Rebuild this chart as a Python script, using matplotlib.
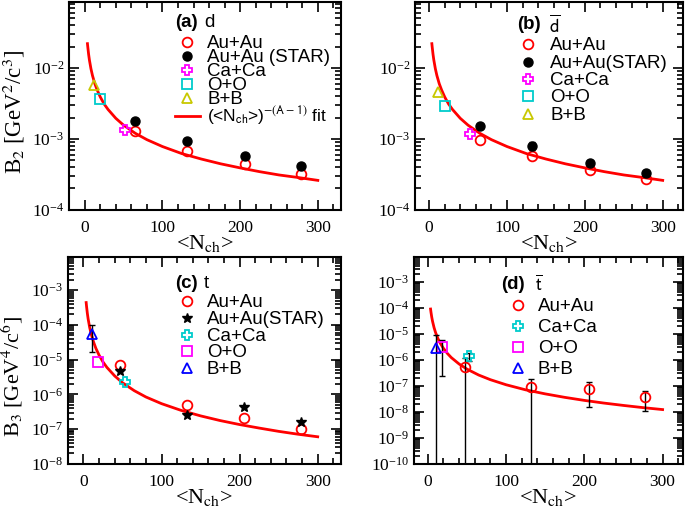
import numpy as np
import matplotlib
matplotlib.use('Agg')
import matplotlib.pyplot as plt
from matplotlib.lines import Line2D
from matplotlib.font_manager import FontProperties
from matplotlib.ticker import MultipleLocator, LogLocator, NullFormatter

plt.rcParams['font.family'] = 'Liberation Serif'
plt.rcParams['mathtext.fontset'] = 'stix'

# ---- data ----
# (a) deuteron B2
a_auau_x = [65, 132, 206, 278]
a_auau_y = [1.31e-3, 6.8e-4, 4.4e-4, 3.2e-4]
a_star_x = [65, 132, 206, 278]
a_star_y = [1.78e-3, 9.2e-4, 5.8e-4, 4.1e-4]
a_caca = (52, 1.33e-3)
a_oo = (20, 3.66e-3)
a_bb = (12, 5.8e-3)

# (b) anti-deuteron B2
b_auau_x = [65, 132, 206, 278]
b_auau_y = [9.8e-4, 5.7e-4, 3.7e-4, 2.75e-4]
b_star_x = [65, 132, 206, 278]
b_star_y = [1.54e-3, 8.0e-4, 4.55e-4, 3.3e-4]
b_star_err = [0.0, 1.0e-4, 0.0, 0.0]
b_caca = (53, 1.17e-3)
b_oo = (20, 2.95e-3)
b_bb = (12, 4.65e-3)

# (c) triton B3
c_auau_x = [47, 132, 206, 278]
c_auau_y = [7.0e-6, 5.0e-7, 2.1e-7, 1.0e-7]
c_star_x = [47, 132, 206, 278]
c_star_y = [4.6e-6, 2.5e-7, 4.4e-7, 1.65e-7]
c_caca = (53, 2.2e-6)
c_oo = (19, 8.8e-6)
c_bb = (11, 5.4e-5)
c_bb_lo, c_bb_hi = 1.65e-5, 9.8e-5

# (d) anti-triton B3
d_auau_x = [47, 132, 206, 278]
d_auau_y = [5.2e-7, 9.1e-8, 7.6e-8, 3.8e-8]
d_auau_lo = [1e-11, 1e-11, 1.6e-8, 1.1e-8]
d_auau_hi = [1.2e-6, 1.9e-7, 1.4e-7, 6.5e-8]
d_caca = (52, 1.4e-6)
d_caca_lo, d_caca_hi = 9.0e-7, 1.9e-6
d_oo = (18, 3.2e-6)
d_oo_lo, d_oo_hi = 2.4e-7, 6.0e-6
d_bb = (10, 2.9e-6)
d_bb_lo, d_bb_hi = 1e-11, 8.9e-6

# fit curves
fit_x = [3.5, 4, 5, 6, 8, 10, 13, 16, 20, 25, 30, 40, 50, 65, 80, 100,
         125, 150, 175, 200, 225, 250, 275, 300]
fit_a = [2.2e-2, 1.95e-2, 1.56e-2, 1.3e-2, 9.75e-3, 7.8e-3, 6.0e-3, 4.9e-3,
         3.9e-3, 3.1e-3, 2.6e-3, 1.95e-3, 1.56e-3, 1.2e-3, 9.75e-4, 7.8e-4,
         6.2e-4, 5.2e-4, 4.45e-4, 3.9e-4, 3.45e-4, 3.1e-4, 2.85e-4, 2.6e-4]
fit_b = [2.2e-2, 1.95e-2, 1.56e-2, 1.3e-2, 9.75e-3, 7.8e-3, 6.0e-3, 4.9e-3,
         3.9e-3, 3.1e-3, 2.6e-3, 1.95e-3, 1.56e-3, 1.2e-3, 9.75e-4, 7.8e-4,
         6.2e-4, 5.2e-4, 4.45e-4, 3.9e-4, 3.45e-4, 3.1e-4, 2.85e-4, 2.6e-4]
fit_c = [4.4e-4, 3.4e-4, 2.16e-4, 1.5e-4, 8.4e-5, 5.4e-5, 3.2e-5, 2.1e-5,
         1.35e-5, 8.6e-6, 6.0e-6, 3.4e-6, 2.16e-6, 1.28e-6, 8.4e-7, 5.4e-7,
         3.46e-7, 2.4e-7, 1.76e-7, 1.35e-7, 1.07e-7, 8.6e-8, 7.1e-8, 6.0e-8]
fit_d = [9.0e-5, 6.9e-5, 4.4e-5, 3.06e-5, 1.72e-5, 1.1e-5, 6.5e-6, 4.3e-6,
         2.75e-6, 1.76e-6, 1.22e-6, 6.9e-7, 4.4e-7, 2.6e-7, 1.72e-7, 1.1e-7,
         7.0e-8, 4.9e-8, 3.6e-8, 2.75e-8, 2.17e-8, 1.76e-8, 1.45e-8, 1.22e-8]

RED = '#ff0000'
MAG = '#ff00ff'
CYAN = '#00cccc'
YEL = '#c8c800'
BLUE = '#0000ff'

fig = plt.figure(figsize=(6.85, 5.08), dpi=100)
axa = fig.add_axes([0.101, 0.587, 0.397, 0.409])
axb = fig.add_axes([0.606, 0.587, 0.391, 0.409])
axc = fig.add_axes([0.099, 0.087, 0.399, 0.407])
axd = fig.add_axes([0.604, 0.087, 0.393, 0.407])

ms = 7


def style(ax, ylo, yhi, xlim):
    ax.set_yscale('log')
    ax.set_ylim(ylo, yhi)
    ax.set_xlim(*xlim)
    ax.xaxis.set_major_locator(MultipleLocator(100))
    ax.xaxis.set_minor_locator(MultipleLocator(20))
    ax.yaxis.set_major_locator(LogLocator(base=10, numticks=20))
    ax.yaxis.set_minor_locator(LogLocator(base=10, subs=np.arange(2, 10), numticks=20))
    ax.yaxis.set_minor_formatter(NullFormatter())
    ax.tick_params(which='both', direction='in', top=True, right=True, width=1.2)
    ax.tick_params(which='major', length=7, labelsize=12.5)
    ax.tick_params(which='minor', length=4)
    ax.tick_params(axis='x', which='major', pad=7)
    for s in ax.spines.values():
        s.set_linewidth(1.5)
    ax.set_xlabel(r'<N$_{\rm ch}$>', fontsize=16, labelpad=-2)


def oc(ax, x, y, c, m, size=ms, **kw):
    ax.plot(x, y, ls='none', marker=m, ms=size, mfc='none', mec=c, mew=1.3, **kw)


# (a)
style(axa, 1e-4, 0.085, (-20, 330))
axa.plot(fit_x, fit_a, color=RED, lw=2)
oc(axa, a_auau_x, a_auau_y, RED, 'o')
axa.plot(a_star_x, a_star_y, 'o', color='k', ms=6.5)
oc(axa, [a_caca[0]], [a_caca[1]], MAG, 'P')
oc(axa, [a_oo[0]], [a_oo[1]], CYAN, 's')
oc(axa, [a_bb[0]], [a_bb[1]], YEL, '^')
axa.set_ylabel(r'B$_2$ [GeV$^2$/c$^3$]', fontsize=16.5)
axa.yaxis.set_label_coords(-0.155, 0.47)

# (b)
style(axb, 1e-4, 0.085, (-18, 326))
axb.plot(fit_x, fit_b, color=RED, lw=2)
oc(axb, b_auau_x, b_auau_y, RED, 'o')
axb.errorbar(b_star_x, b_star_y, yerr=b_star_err, fmt='o', color='k', ms=6.5,
             capsize=2, elinewidth=1)
oc(axb, [b_caca[0]], [b_caca[1]], MAG, 'P')
oc(axb, [b_oo[0]], [b_oo[1]], CYAN, 's')
oc(axb, [b_bb[0]], [b_bb[1]], YEL, '^')

# (c)
style(axc, 1e-8, 9e-3, (-20, 330))
axc.plot(fit_x, fit_c, color=RED, lw=2)
oc(axc, c_auau_x, c_auau_y, RED, 'o')
axc.plot(c_star_x, c_star_y, '*', color='k', ms=7)
oc(axc, [c_caca[0]], [c_caca[1]], CYAN, 'P')
oc(axc, [c_oo[0]], [c_oo[1]], MAG, 's')
axc.errorbar([c_bb[0]], [c_bb[1]],
             yerr=[[c_bb[1] - c_bb_lo], [c_bb_hi - c_bb[1]]],
             fmt='none', ecolor='k', elinewidth=1, capsize=2)
oc(axc, [c_bb[0]], [c_bb[1]], BLUE, '^')
axc.set_ylabel(r'B$_3$ [GeV$^4$/c$^6$]', fontsize=16)
axc.yaxis.set_label_coords(-0.155, 0.42)

# (d)
style(axd, 1e-10, 9e-3, (-18, 326))
axd.plot(fit_x, fit_d, color=RED, lw=2)
ylo = [y - l for y, l in zip(d_auau_y, d_auau_lo)]
yhi = [h - y for y, h in zip(d_auau_y, d_auau_hi)]
axd.errorbar(d_auau_x, d_auau_y, yerr=[ylo, yhi], fmt='none', ecolor='k',
             elinewidth=1, capsize=2)
oc(axd, d_auau_x, d_auau_y, RED, 'o')
axd.errorbar([d_caca[0]], [d_caca[1]],
             yerr=[[d_caca[1] - d_caca_lo], [d_caca_hi - d_caca[1]]],
             fmt='none', ecolor='k', elinewidth=1, capsize=2)
oc(axd, [d_caca[0]], [d_caca[1]], CYAN, 'P')
axd.errorbar([d_oo[0]], [d_oo[1]],
             yerr=[[d_oo[1] - d_oo_lo], [d_oo_hi - d_oo[1]]],
             fmt='none', ecolor='k', elinewidth=1, capsize=2)
oc(axd, [d_oo[0]], [d_oo[1]], MAG, 's')
axd.errorbar([d_bb[0]], [d_bb[1]],
             yerr=[[d_bb[1] - d_bb_lo], [d_bb_hi - d_bb[1]]],
             fmt='none', ecolor='k', elinewidth=1, capsize=2)
oc(axd, [d_bb[0]], [d_bb[1]], BLUE, '^')


# legends
def h(c, m, filled=False, size=ms):
    if filled:
        return Line2D([], [], ls='none', marker=m, color=c, ms=size)
    return Line2D([], [], ls='none', marker=m, mfc='none', mec=c, mew=1.3, ms=size)


def legend(ax, handles, labels, x, y, spacing, pad, size):
    font = FontProperties(family='Liberation Sans', size=size, math_fontfamily='stixsans')
    return ax.legend(handles, labels, loc='upper left', bbox_to_anchor=(x, y),
                     frameon=False, prop=font, handlelength=1.3, handleheight=0.5,
                     handletextpad=pad, labelspacing=spacing, borderpad=0,
                     borderaxespad=0)


def title(ax, tag, name, x1, x2, y):
    ax.text(x1, y, tag, transform=ax.transAxes, fontproperties=FontProperties(
        family='Liberation Sans', size=13.5, weight='bold'), va='center')
    ax.text(x2, y, name, transform=ax.transAxes, fontproperties=FontProperties(
        family='Liberation Sans', size=13.5, math_fontfamily='stixsans'), va='center')


leg = legend(axa,
             [h(RED, 'o'), h('k', 'o', True, 6.5), h(MAG, 'P'), h(CYAN, 's'), h(YEL, '^'),
              Line2D([], [], color=RED, lw=2)],
             ['Au+Au', 'Au+Au (STAR)', 'Ca+Ca', 'O+O', 'B+B',
              r'(<N$_{\rm ch}$>)$^{-(\mathrm{A}-1)}$ fit'],
             0.39, 0.84, -0.17, 0.4, 13.5)
leg.get_texts()[-1].set_fontsize(12.5)
title(axa, '(a)', 'd', 0.39, 0.496, 0.9)

legend(axb,
       [h(RED, 'o'), h('k', 'o', True, 6.5), h(MAG, 'P'), h(CYAN, 's'), h(YEL, '^')],
       ['Au+Au', 'Au+Au(STAR)', 'Ca+Ca', 'O+O', 'B+B'],
       0.375, 0.83, 0.02, 0.55, 13.5)
title(axb, '(b)', r'$\overline{\mathrm{d}}$', 0.38, 0.5, 0.89)

legend(axc,
       [h(RED, 'o'), h('k', '*', True, 7), h(CYAN, 'P'), h(MAG, 's'), h(BLUE, '^')],
       ['Au+Au', 'Au+Au(STAR)', 'Ca+Ca', 'O+O', 'B+B'],
       0.392, 0.82, -0.02, 0.4, 13.5)
title(axc, '(c)', 't', 0.392, 0.498, 0.874)

legend(axd,
       [h(RED, 'o'), h(CYAN, 'P'), h(MAG, 's'), h(BLUE, '^')],
       ['Au+Au', 'Ca+Ca', 'O+O', 'B+B'],
       0.342, 0.80, 0.2, 0.4, 13.5)
title(axd, '(d)', r'$\overline{\mathrm{t}}$', 0.323, 0.45, 0.865)

fig.savefig('out.png', dpi=100)
